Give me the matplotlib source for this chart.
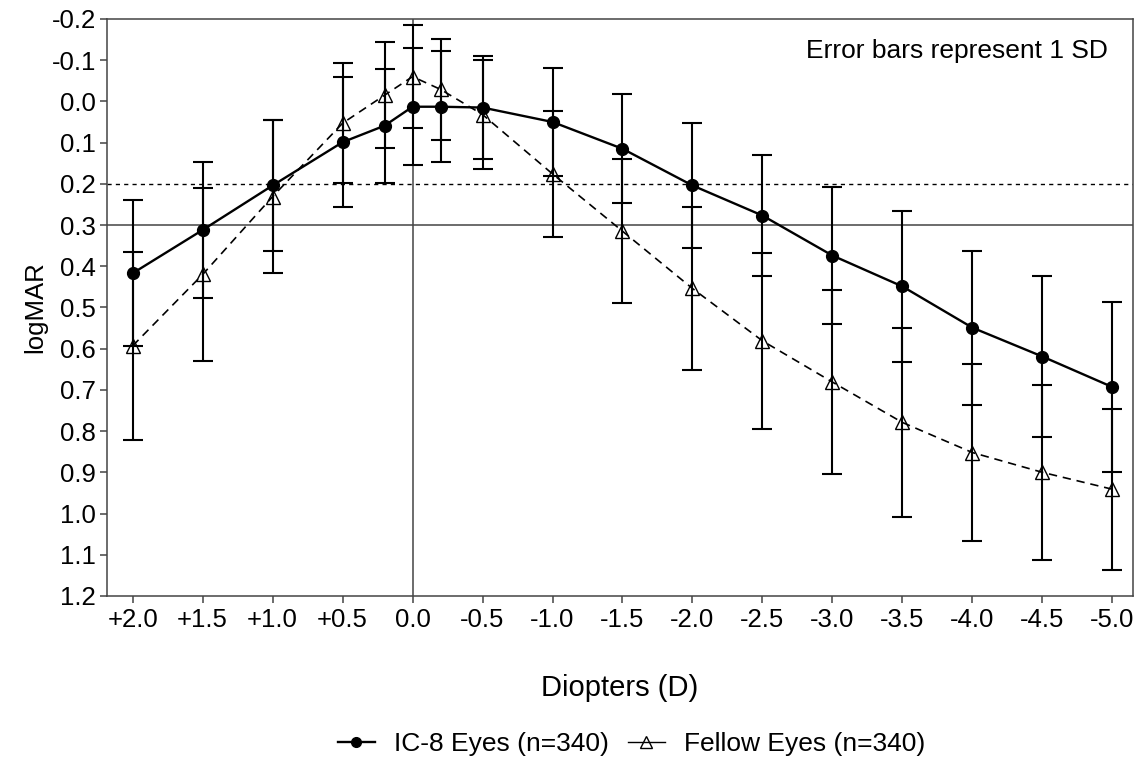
import matplotlib
matplotlib.use("Agg")
import matplotlib.pyplot as plt
import numpy as np

plt.rcParams['font.family'] = ['Liberation Sans', 'DejaVu Sans']

# defocus curve values
diopters = [2.0, 1.5, 1.0, 0.5, 0.2, 0.0, -0.2, -0.5, -1.0, -1.5, -2.0,
            -2.5, -3.0, -3.5, -4.0, -4.5, -5.0]
ic8_mean = [0.417, 0.312, 0.204, 0.099, 0.059, 0.013, 0.013, 0.015, 0.050,
            0.115, 0.204, 0.277, 0.374, 0.449, 0.549, 0.619, 0.693]
ic8_sd = [0.177, 0.164, 0.159, 0.157, 0.138, 0.142, 0.134, 0.126, 0.131,
          0.132, 0.151, 0.147, 0.166, 0.184, 0.187, 0.196, 0.206]
fellow_mean = [0.593, 0.420, 0.231, 0.053, -0.015, -0.060, -0.029, 0.032, 0.176,
               0.315, 0.454, 0.581, 0.681, 0.779, 0.852, 0.900, 0.941]
fellow_sd = [0.228, 0.211, 0.186, 0.145, 0.129, 0.125, 0.122, 0.132, 0.152,
             0.175, 0.198, 0.214, 0.224, 0.229, 0.215, 0.213, 0.195]

xtick_vals = [2.0, 1.5, 1.0, 0.5, 0.0, -0.5, -1.0, -1.5, -2.0, -2.5, -3.0,
              -3.5, -4.0, -4.5, -5.0]
xtick_labels = ["+2.0", "+1.5", "+1.0", "+0.5", "0.0", "-0.5", "-1.0", "-1.5",
                "-2.0", "-2.5", "-3.0", "-3.5", "-4.0", "-4.5", "-5.0"]
ytick_vals = [-0.2, -0.1, 0.0, 0.1, 0.2, 0.3, 0.4, 0.5, 0.6, 0.7, 0.8, 0.9,
              1.0, 1.1, 1.2]
ytick_labels = ["-0.2", "-0.1", "0.0", "0.1", "0.2", "0.3", "0.4", "0.5", "0.6",
                "0.7", "0.8", "0.9", "1.0", "1.1", "1.2"]

fig = plt.figure(figsize=(11.36, 7.57), dpi=100)
ax = fig.add_axes([0.0945, 0.2127, 0.9025, 0.7623])

grey = '#444444'
# reference lines
ax.axhline(0.3, color=grey, lw=1.1, zorder=1)
ax.axhline(0.2, color='black', lw=1.0, ls=(0, (3, 3)), zorder=1)
ax.axvline(0.0, color=grey, lw=1.1, zorder=1)

# fellow eyes
ax.errorbar(diopters, fellow_mean, yerr=fellow_sd, fmt='none', ecolor='black',
            elinewidth=1.5, capsize=7.5, capthick=1.5, zorder=2)
ax.plot(diopters, fellow_mean, color='black', lw=1.2, ls=(0, (5, 3.5)),
        marker='^', markersize=10, markerfacecolor='none',
        markeredgecolor='black', markeredgewidth=1.0, zorder=3)
# IC-8 eyes
ax.errorbar(diopters, ic8_mean, yerr=ic8_sd, fmt='none', ecolor='black',
            elinewidth=1.5, capsize=7.5, capthick=1.5, zorder=2)
ax.plot(diopters, ic8_mean, color='black', lw=1.7, marker='o', markersize=8.5,
        zorder=4)

ax.set_xlim(2.181, -5.145)
ax.set_ylim(1.2, -0.2)
ax.set_xticks(xtick_vals)
ax.set_xticklabels(xtick_labels)
ax.set_yticks(ytick_vals)
ax.set_yticklabels(ytick_labels)
ax.tick_params(axis='both', direction='out', length=5, width=1.1, color=grey,
               labelsize=18.5, pad=4)
ax.tick_params(axis='y', pad=3)
for s in ax.spines.values():
    s.set_color(grey)
    s.set_linewidth(1.1)

ax.set_xlabel("Diopters (D)", fontsize=21, labelpad=30)
ax.set_ylabel("logMAR", fontsize=18.5, labelpad=3)

ax.text(0.976, 0.944, "Error bars represent 1 SD", transform=ax.transAxes,
        ha='right', va='center', fontsize=19)

h1, = ax.plot([], [], color='black', lw=1.7, marker='o', markersize=7)
h2, = ax.plot([], [], color='black', lw=1.0, marker='^', markersize=8,
              markerfacecolor='none', markeredgewidth=1.0)
fig.legend([h1, h2], ["IC-8 Eyes (n=340)", "Fellow Eyes (n=340)"],
           loc='center', bbox_to_anchor=(0.556, 0.017), ncol=2,
           frameon=False, fontsize=19, handlelength=1.4, handletextpad=0.75,
           columnspacing=0.7, borderpad=0, borderaxespad=0)

plt.savefig("out.png", dpi=100)
